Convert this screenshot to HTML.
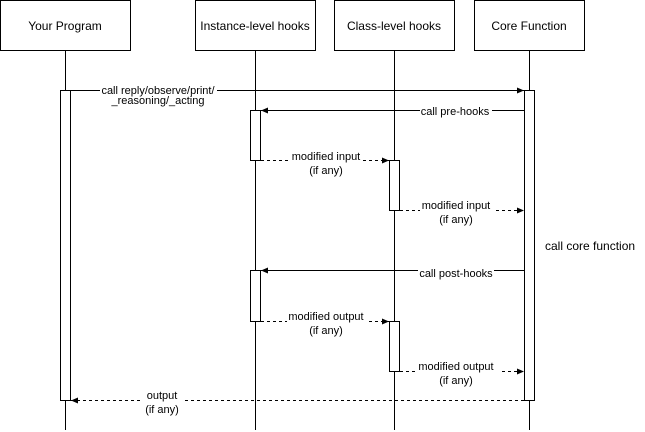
<!DOCTYPE html>
<html><head><meta charset="utf-8"><style>
html,body{margin:0;padding:0;background:#fff;}
svg{display:block;}
text{font-family:"Liberation Sans",Arial,sans-serif;font-size:11px;fill:#000;}
</style></head><body>
<svg width="645" height="432" viewBox="0 0 645 432" xmlns="http://www.w3.org/2000/svg">
<defs>
<marker id="a" markerWidth="8" markerHeight="8" refX="7" refY="3.5" orient="auto" markerUnits="userSpaceOnUse">
<path d="M0,0.5 L7,3.5 L0,6.5 Z" fill="#000"/></marker>
</defs>
<g stroke="#000" fill="#fff" stroke-width="1">
<rect x="0.5" y="0.5" width="130" height="50"/>
<rect x="195.5" y="0.5" width="120" height="50"/>
<rect x="334.5" y="0.5" width="120" height="50"/>
<rect x="474.5" y="0.5" width="110" height="50"/>
<line x1="65.5" y1="50" x2="65.5" y2="430"/>
<line x1="255.5" y1="50" x2="255.5" y2="430"/>
<line x1="394.5" y1="50" x2="394.5" y2="430"/>
<line x1="529.5" y1="50" x2="529.5" y2="430"/>
<rect x="60.5" y="90.5" width="10" height="310"/>
<rect x="524.5" y="90.5" width="10" height="310"/>
<rect x="250.5" y="110.5" width="10" height="50"/>
<rect x="389.5" y="160.5" width="10" height="50"/>
<rect x="250.5" y="270.5" width="10" height="51"/>
<rect x="389.5" y="321.5" width="10" height="50"/>
</g>
<g stroke="#000" stroke-width="1" fill="none">
<line x1="70" y1="90.5" x2="524" y2="90.5" marker-end="url(#a)"/>
<line x1="524" y1="110.5" x2="261" y2="110.5" marker-end="url(#a)"/>
<line x1="261" y1="160.5" x2="389" y2="160.5" stroke-dasharray="3,3" marker-end="url(#a)"/>
<line x1="400" y1="210.5" x2="524" y2="210.5" stroke-dasharray="3,3" marker-end="url(#a)"/>
<line x1="524" y1="270.5" x2="261" y2="270.5" marker-end="url(#a)"/>
<line x1="261" y1="321.5" x2="389" y2="321.5" stroke-dasharray="3,3" marker-end="url(#a)"/>
<line x1="400" y1="371.5" x2="524" y2="371.5" stroke-dasharray="3,3" marker-end="url(#a)"/>
<line x1="524" y1="400.5" x2="71" y2="400.5" stroke-dasharray="3,3" marker-end="url(#a)"/>
</g>
<g font-size="12">
<text x="65" y="30" text-anchor="middle" style="font-size:12px">Your Program</text>
<text x="255" y="30" text-anchor="middle" style="font-size:12px">Instance-level hooks</text>
<text x="394" y="30" text-anchor="middle" style="font-size:12px">Class-level hooks</text>
<text x="529" y="30" text-anchor="middle" style="font-size:12px">Core Function</text>
</g>
<g fill="#fff">
<rect x="100" y="83" width="117" height="24"/>
<rect x="420" y="104" width="72" height="12"/>
<rect x="290" y="151" width="72" height="24"/>
<rect x="420" y="200" width="74" height="24"/>
<rect x="418" y="264" width="76" height="12"/>
<rect x="287" y="311" width="80" height="24"/>
<rect x="418" y="361" width="82" height="24"/>
<rect x="140" y="391" width="44" height="24"/>
</g>
<g text-anchor="middle">
<text x="158" y="94">call reply/observe/print/</text>
<text x="158" y="104">_reasoning/_acting</text>
<text x="455" y="115">call pre-hooks</text>
<text x="326" y="160">modified input</text>
<text x="326" y="174">(if any)</text>
<text x="456" y="209">modified input</text>
<text x="456" y="223">(if any)</text>
<text x="456" y="277">call post-hooks</text>
<text x="326" y="320">modified output</text>
<text x="326" y="334">(if any)</text>
<text x="456" y="370">modified output</text>
<text x="456" y="384">(if any)</text>
<text x="162" y="399">output</text>
<text x="162" y="413">(if any)</text>
</g>
<text x="545" y="250" style="font-size:12px">call core function</text>
</svg>
</body></html>
